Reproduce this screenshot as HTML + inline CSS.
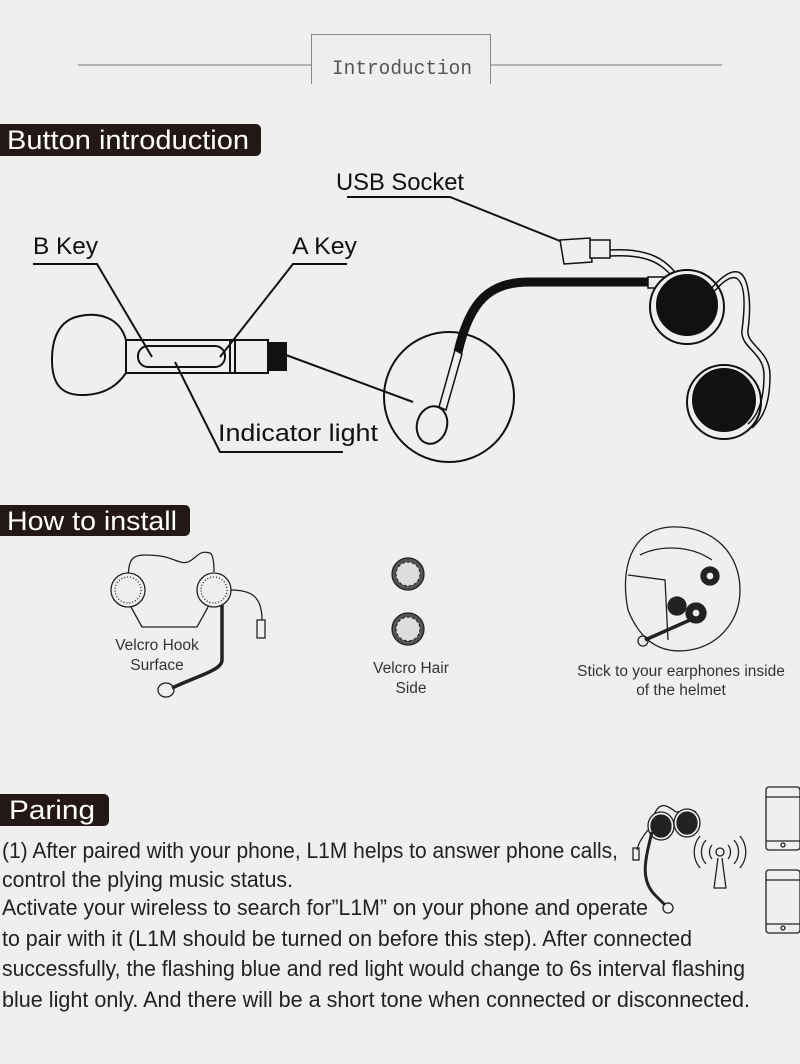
<!DOCTYPE html>
<html><head><meta charset="utf-8"><style>
html,body{margin:0;padding:0;background:#efefef;}
svg{display:block}
.n{font-family:"Liberation Sans Narrow","Liberation Sans",sans-serif;}
</style></head><body>
<svg width="800" height="1064" viewBox="0 0 800 1064" xmlns="http://www.w3.org/2000/svg">
<rect width="800" height="1064" fill="#efefef"/>
<!-- Intro header -->
<line x1="78" y1="65" x2="312" y2="65" stroke="#777" stroke-width="1"/>
<line x1="490" y1="65" x2="722" y2="65" stroke="#777" stroke-width="1"/>
<path d="M311.5 84 V34.5 H490.5 V84" fill="none" stroke="#888" stroke-width="1"/>
<text x="332" y="74" font-family="Liberation Mono, monospace" font-size="20" fill="#555" textLength="140" lengthAdjust="spacingAndGlyphs">Introduction</text>

<!-- Section headers -->
<path d="M0 124 H256 a5 5 0 0 1 5 5 V151 a5 5 0 0 1 -5 5 H0Z" fill="#231815"/>
<text class="n" x="7" y="149" font-size="27" fill="#fff" textLength="242" lengthAdjust="spacingAndGlyphs">Button introduction</text>
<path d="M0 505 H185 a5 5 0 0 1 5 5 V531 a5 5 0 0 1 -5 5 H0Z" fill="#231815"/>
<text class="n" x="7" y="530" font-size="27" fill="#fff" textLength="170" lengthAdjust="spacingAndGlyphs">How to install</text>
<path d="M0 794 H104 a5 5 0 0 1 5 5 V821 a5 5 0 0 1 -5 5 H0Z" fill="#231815"/>
<text class="n" x="9" y="819" font-size="27" fill="#fff" textLength="86" lengthAdjust="spacingAndGlyphs">Paring</text>

<!-- Button diagram -->
<g fill="none" stroke="#111" stroke-width="2">
<text class="n" x="336" y="190" font-size="24" fill="#111" stroke="none" textLength="128" lengthAdjust="spacingAndGlyphs">USB Socket</text>
<polyline points="347,197 450,197 565,243"/>
<text class="n" x="33" y="254" font-size="24" fill="#111" stroke="none" textLength="65" lengthAdjust="spacingAndGlyphs">B Key</text>
<polyline points="33,264 97,264 152,357"/>
<text class="n" x="292" y="254" font-size="24" fill="#111" stroke="none" textLength="65" lengthAdjust="spacingAndGlyphs">A Key</text>
<polyline points="347,264 293,264 220,357"/>
<text class="n" x="218" y="441" font-size="24" fill="#111" stroke="none" textLength="160" lengthAdjust="spacingAndGlyphs">Indicator light</text>
<polyline points="175,362 220,452 343,452"/>
<line x1="286" y1="355" x2="413" y2="402"/>
<path d="M126 340 C120 318 100 312 80 316 C58 320 52 340 52 360 C52 385 62 396 85 395 C108 394 120 382 126 373"/>
<rect x="126" y="340" width="142" height="33"/>
<rect x="138" y="346" width="87" height="21" rx="10"/>
<line x1="230" y1="340" x2="230" y2="373"/><line x1="235" y1="340" x2="235" y2="373"/>
<rect x="268" y="343" width="18" height="27" fill="#111"/>
<circle cx="449" cy="397" r="65"/>
<path d="M458 352 C470 300 490 282 530 282 L648 282" stroke-width="9"/>
<path d="M455 350 L462 354 L446 410 L439 407Z" fill="#efefef" stroke-width="1.5"/>
<ellipse cx="432" cy="425" rx="15" ry="19" transform="rotate(15 432 425)" fill="#efefef"/>
<path d="M648 277 H668 V288 H648Z" fill="#efefef" stroke-width="1.5"/>
<circle cx="687" cy="307" r="37" fill="#efefef"/>
<circle cx="687" cy="305" r="30" fill="#111"/>
<circle cx="724" cy="402" r="37" fill="#efefef"/>
<circle cx="724" cy="400" r="31" fill="#111"/>
<path d="M610 250 C650 248 665 260 675 272" stroke-width="1.5"/>
<path d="M610 256 C648 254 660 264 670 274" stroke-width="1.5"/>
<path d="M710 290 C720 278 730 270 738 272 C748 275 752 300 748 330 C746 345 770 350 770 375 C770 410 760 420 752 428" stroke-width="1.5"/>
<path d="M712 294 C722 282 730 276 736 278 C744 282 746 300 742 330 C740 348 764 352 764 375 C764 405 755 418 748 424" stroke-width="1.5"/>
<path d="M560 240 L590 238 L592 262 L564 264Z" fill="#efefef" stroke-width="1.5"/>
<rect x="590" y="240" width="20" height="18" fill="#efefef" stroke-width="1.5"/>
</g>

<!-- How to install illustrations -->
<g fill="none" stroke="#222" stroke-width="1.3">
<path d="M128 588 C128 555 130 553 160 556 C175 558 182 566 190 561 C198 556 200 550 210 553 C214 555 214 568 214 572"/>
<circle cx="128" cy="590" r="17" fill="#efefef"/>
<circle cx="128" cy="590" r="13" stroke-dasharray="1 2"/>
<circle cx="214" cy="590" r="17" fill="#efefef"/>
<circle cx="214" cy="590" r="13" stroke-dasharray="1 2"/>
<polyline points="131,607 142,627 197,627 208,607"/>
<path d="M230 590 C250 590 262 595 262 620"/>
<rect x="257" y="620" width="8" height="18"/>
<path d="M222 605 L222 660 C222 670 200 675 172 688" stroke-width="3.5"/>
<ellipse cx="166" cy="690" rx="8" ry="7"/>
<circle cx="408" cy="574" r="16" fill="#555"/>
<circle cx="408" cy="629" r="16" fill="#555"/>
<circle cx="408" cy="574" r="12" fill="#ddd" stroke="#333" stroke-dasharray="3 2"/>
<circle cx="408" cy="629" r="12" fill="#ddd" stroke="#333" stroke-dasharray="3 2"/>
<path d="M628 610 C620 570 630 530 670 527 C715 525 740 555 740 590 C740 620 720 645 690 650 C660 655 640 640 628 610Z" fill="#efefef"/>
<path d="M628 575 L665 580 L668 640"/>
<path d="M640 555 C660 545 690 545 712 560"/>
<circle cx="710" cy="576" r="9" fill="#222"/><circle cx="710" cy="576" r="4" fill="#efefef"/>
<circle cx="677" cy="606" r="9" fill="#222"/>
<circle cx="696" cy="613" r="10" fill="#222"/><circle cx="696" cy="613" r="4" fill="#efefef"/>
<path d="M690 620 L645 640" stroke-width="3.5"/>
<circle cx="643" cy="641" r="5"/>
</g>
<g font-family="Liberation Sans Narrow, Liberation Sans, sans-serif" font-size="15.5" fill="#333" text-anchor="middle">
<text x="157" y="650">Velcro Hook</text><text x="157" y="670">Surface</text>
<text x="411" y="673">Velcro Hair</text><text x="411" y="693">Side</text>
<text x="681" y="676">Stick to your earphones inside</text><text x="681" y="695">of the helmet</text>
</g>

<!-- Paring illustration -->
<g fill="none" stroke="#222" stroke-width="1.3">
<path d="M654 815 C660 800 668 806 676 812 C684 812 690 808 696 812"/>
<ellipse cx="661" cy="826" rx="13" ry="14" fill="#efefef"/><ellipse cx="661" cy="826" rx="10" ry="11" fill="#222"/>
<ellipse cx="687" cy="823" rx="13" ry="14" fill="#efefef"/><ellipse cx="687" cy="823" rx="10" ry="11" fill="#222"/>
<path d="M652 832 C645 860 640 880 655 895 L665 905" stroke-width="3"/>
<circle cx="668" cy="908" r="5"/>
<path d="M648 830 C640 840 638 845 637 850"/>
<rect x="633" y="848" width="6" height="12"/>
<circle cx="720" cy="852" r="4"/>
<path d="M712 845 a11 11 0 0 0 0 14 M728 845 a11 11 0 0 1 0 14 M706 840 a18 18 0 0 0 0 24 M734 840 a18 18 0 0 1 0 24 M700 836 a25 25 0 0 0 0 32 M740 836 a25 25 0 0 1 0 32"/>
<path d="M718 858 L714 888 L726 888 L722 858"/>
<rect x="766" y="787" width="34" height="63" rx="3"/>
<line x1="766" y1="797" x2="800" y2="797"/><line x1="766" y1="841" x2="800" y2="841"/><circle cx="783" cy="845" r="2"/>
<rect x="766" y="870" width="34" height="63" rx="3"/>
<line x1="766" y1="880" x2="800" y2="880"/><line x1="766" y1="924" x2="800" y2="924"/><circle cx="783" cy="928" r="2"/>
</g>
<g class="n" font-size="22" fill="#222">
<text x="2" y="858" textLength="616" lengthAdjust="spacingAndGlyphs">(1) After paired with your phone, L1M helps to answer phone calls,</text>
<text x="2" y="887" textLength="291" lengthAdjust="spacingAndGlyphs">control the plying music status.</text>
<text x="2" y="915" textLength="646" lengthAdjust="spacingAndGlyphs">Activate your wireless to search for”L1M” on your phone and operate</text>
<text x="2" y="946" textLength="690" lengthAdjust="spacingAndGlyphs">to pair with it (L1M should be turned on before this step). After connected</text>
<text x="2" y="976" textLength="743" lengthAdjust="spacingAndGlyphs">successfully, the flashing blue and red light would change to 6s interval flashing</text>
<text x="2" y="1007" textLength="748" lengthAdjust="spacingAndGlyphs">blue light only. And there will be a short tone when connected or disconnected.</text>
</g>
</svg>
</body></html>
